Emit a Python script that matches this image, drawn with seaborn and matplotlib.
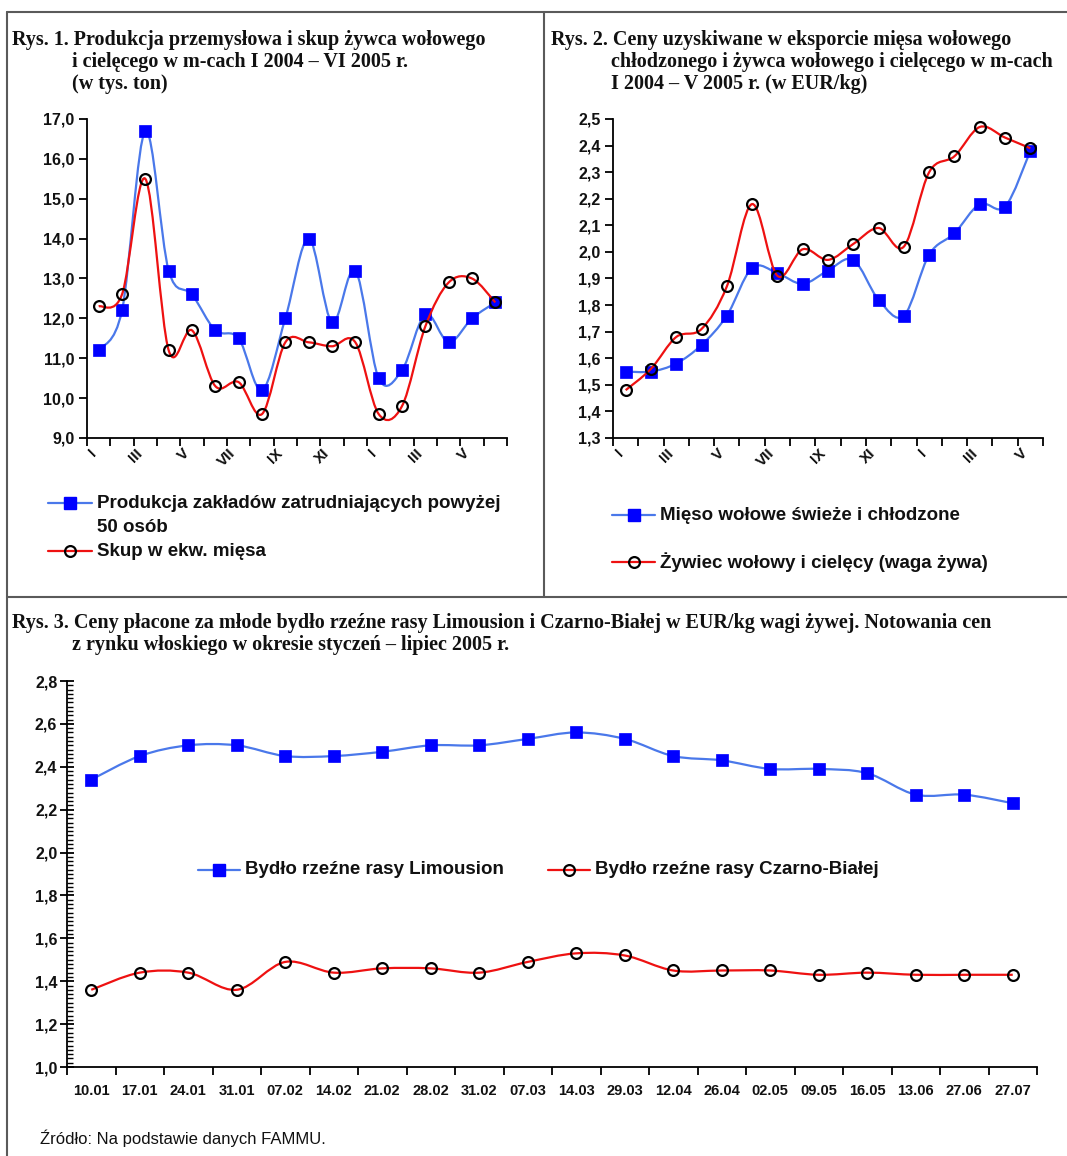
import numpy as np
import pandas as pd
import matplotlib
matplotlib.use("Agg")
import matplotlib.pyplot as plt
import seaborn as sns
from matplotlib.path import Path
from matplotlib.patches import PathPatch
from matplotlib.lines import Line2D
from matplotlib.ticker import FuncFormatter, MultipleLocator

# ---------------- DATA ----------------
months1 = ['I', 'II', 'III', 'IV', 'V', 'VI', 'VII', 'VIII', 'IX', 'X', 'XI', 'XII',
           'I', 'II', 'III', 'IV', 'V', 'VI']
produkcja = [11.2, 12.2, 16.7, 13.2, 12.6, 11.7, 11.5, 10.2, 12.0, 14.0, 11.9, 13.2,
             10.5, 10.7, 12.1, 11.4, 12.0, 12.4]
skup = [12.3, 12.6, 15.5, 11.2, 11.7, 10.3, 10.4, 9.6, 11.4, 11.4, 11.3, 11.4,
        9.6, 9.8, 11.8, 12.9, 13.0, 12.4]

months2 = ['I', 'II', 'III', 'IV', 'V', 'VI', 'VII', 'VIII', 'IX', 'X', 'XI', 'XII',
           'I', 'II', 'III', 'IV', 'V']
mieso = [1.55, 1.55, 1.58, 1.65, 1.76, 1.94, 1.92, 1.88, 1.93, 1.97, 1.82, 1.76,
         1.99, 2.07, 2.18, 2.17, 2.38]
zywiec = [1.48, 1.56, 1.68, 1.71, 1.87, 2.18, 1.91, 2.01, 1.97, 2.03, 2.09, 2.02,
          2.30, 2.36, 2.47, 2.43, 2.39]

dates3 = ['10.01', '17.01', '24.01', '31.01', '07.02', '14.02', '21.02', '28.02', '31.02',
          '07.03', '14.03', '29.03', '12.04', '26.04', '02.05', '09.05', '16.05', '13.06',
          '27.06', '27.07']
limousin = [2.34, 2.45, 2.50, 2.50, 2.45, 2.45, 2.47, 2.50, 2.50, 2.53, 2.56, 2.53,
            2.45, 2.43, 2.39, 2.39, 2.37, 2.27, 2.27, 2.23]
czarno = [1.36, 1.44, 1.44, 1.36, 1.49, 1.44, 1.46, 1.46, 1.44, 1.49, 1.53, 1.52,
          1.45, 1.45, 1.45, 1.43, 1.44, 1.43, 1.43, 1.43]

# ---------------- STYLE ----------------
sns.set_theme(style="white")
plt.rcParams['font.family'] = ['Liberation Sans', 'DejaVu Sans']

W, H = 1067, 1156
fig = plt.figure(figsize=(W / 100, H / 100), dpi=100)
fig.patch.set_facecolor('white')

BLUE_LINE = '#4A78EA'
BLUE_MARK = '#0000FF'
RED_LINE = '#EE1111'
BORDER = '#5a5a5a'
TXT = '#111111'


def fx(px):
    return px / W


def fy(py):
    return 1 - py / H


def axes_px(left, top, right, bottom):
    return fig.add_axes([fx(left), fy(bottom), fx(right - left), (bottom - top) / H])


def smooth_path(xs, ys):
    P = np.column_stack([xs, ys]).astype(float)
    n = len(P)
    verts = [P[0]]
    codes = [Path.MOVETO]
    for i in range(n - 1):
        p0 = P[i - 1] if i > 0 else P[i]
        p1 = P[i]
        p2 = P[i + 1]
        p3 = P[i + 2] if i + 2 < n else P[i + 1]
        c1 = p1 + (p2 - p0) / 6.0
        c2 = p2 - (p3 - p1) / 6.0
        verts += [c1, c2, p2]
        codes += [Path.CURVE4] * 3
    return Path(verts, codes)


SQ = 8.5
CI = 7.8


def draw_series(ax, x, y, kind):
    if kind == 'blue':
        ax.add_patch(PathPatch(smooth_path(x, y), fill=False, edgecolor=BLUE_LINE,
                               lw=1.6, zorder=2))
        sns.lineplot(x=x, y=y, ax=ax, marker='s', markersize=SQ, markerfacecolor=BLUE_MARK,
                     markeredgecolor=BLUE_MARK, markeredgewidth=0.5, lw=0,
                     color=BLUE_MARK, zorder=3, legend=False, sort=False)
    else:
        ax.add_patch(PathPatch(smooth_path(x, y), fill=False, edgecolor=RED_LINE,
                               lw=1.6, zorder=4))
        sns.lineplot(x=x, y=y, ax=ax, marker='o', markersize=CI, markerfacecolor='none',
                     markeredgecolor='black', markeredgewidth=1.6, lw=0,
                     color=RED_LINE, zorder=5, legend=False, sort=False)


def comma_fmt(dec):
    return FuncFormatter(lambda v, p: f"{v:.{dec}f}".replace('.', ','))


def style_axes(ax):
    for s in ['top', 'right']:
        ax.spines[s].set_visible(False)
    for s in ['left', 'bottom']:
        ax.spines[s].set_color('black')
        ax.spines[s].set_linewidth(1.3)
    ax.set_xlabel('')
    ax.set_ylabel('')
    ax.set_facecolor('none')


YS = 11.5


def month_axes(ax, labels, ymin, ymax, ystep, dec):
    n = len(labels)
    ax.set_xlim(-0.5, n - 0.5)
    ax.set_ylim(ymin, ymax)
    ax.set_xticks(np.arange(-0.5, n, 1.0))
    ax.set_xticklabels([])
    idx = np.arange(0, n, 2)
    ax.set_xticks(idx, minor=True)
    ax.set_xticklabels([labels[i] for i in idx], minor=True, rotation=45,
                       ha='right', va='top', fontsize=11, fontweight='bold', color=TXT)
    ax.tick_params(axis='x', which='major', direction='out', length=6, width=1.3,
                   color='black', bottom=True)
    ax.tick_params(axis='x', which='minor', length=0, pad=6, bottom=True)
    ax.yaxis.set_major_locator(MultipleLocator(ystep))
    ax.yaxis.set_major_formatter(comma_fmt(dec))
    ax.tick_params(axis='y', which='major', direction='out', length=6, width=1.3,
                   color='black', left=True, labelsize=YS, pad=3, labelcolor=TXT)
    for t in ax.get_yticklabels():
        t.set_fontweight('bold')
    style_axes(ax)


# ---------------- PANEL 1 ----------------
ax1 = axes_px(87, 119, 507, 438)
x1 = np.arange(len(months1))
draw_series(ax1, x1, produkcja, 'blue')
draw_series(ax1, x1, skup, 'red')
month_axes(ax1, months1, 9.0, 17.0, 1.0, 1)

# ---------------- PANEL 2 ----------------
ax2 = axes_px(613, 119, 1043, 438)
x2 = np.arange(len(months2))
draw_series(ax2, x2, mieso, 'blue')
draw_series(ax2, x2, zywiec, 'red')
month_axes(ax2, months2, 1.3, 2.5, 0.1, 1)

# ---------------- PANEL 3 ----------------
ax3 = axes_px(67, 681, 1037, 1067)
x3 = np.arange(len(dates3))
draw_series(ax3, x3, limousin, 'blue')
draw_series(ax3, x3, czarno, 'red')
n3 = len(dates3)
ax3.set_xlim(-0.5, n3 - 0.5)
ax3.set_ylim(1.0, 2.8)
ax3.set_xticks(np.arange(-0.5, n3, 1.0))
ax3.set_xticklabels([])
ax3.set_xticks(x3, minor=True)
ax3.set_xticklabels(dates3, minor=True, fontsize=10.5, fontweight='bold', color=TXT)
ax3.tick_params(axis='x', which='major', direction='out', length=6, width=1.3,
                color='black', bottom=True)
ax3.tick_params(axis='x', which='minor', length=0, pad=12, bottom=True)
ax3.yaxis.set_major_locator(MultipleLocator(0.2))
ax3.yaxis.set_minor_locator(MultipleLocator(0.02))
ax3.yaxis.set_major_formatter(comma_fmt(1))
ax3.tick_params(axis='y', which='major', direction='inout', length=10, width=1.3,
                color='black', left=True, labelsize=YS, pad=2, labelcolor=TXT)
ax3.tick_params(axis='y', which='minor', direction='in', length=4, width=1.0,
                color='black', left=True)
for t in ax3.get_yticklabels():
    t.set_fontweight('bold')
style_axes(ax3)

# ---------------- BORDERS ----------------
for (xa, ya, xb, yb) in [(7, 12, W, 12), (7, 12, 7, H), (544, 12, 544, 597),
                         (7, 597, W, 597)]:
    fig.add_artist(Line2D([fx(xa), fx(xb)], [fy(ya), fy(yb)], color=BORDER, lw=1.5,
                          transform=fig.transFigure))

# ---------------- TITLES ----------------
SERIF = ['Liberation Serif', 'DejaVu Serif']
TS = 14.5


def ttext(x, y, s, **kw):
    fig.text(fx(x), fy(y), s, family=SERIF, fontweight='bold', fontsize=TS,
             va='center', ha='left', color=TXT, **kw)


ttext(12, 40, 'Rys. 1. Produkcja przemysłowa i skup żywca wołowego')
ttext(72, 62, 'i cielęcego w m-cach I 2004 – VI 2005 r.')
ttext(72, 84, '(w tys. ton)')

ttext(551, 40, 'Rys. 2. Ceny uzyskiwane w eksporcie mięsa wołowego')
ttext(611, 62, 'chłodzonego i żywca wołowego i cielęcego w m-cach')
ttext(611, 84, 'I 2004 – V 2005 r. (w EUR/kg)')

ttext(12, 623, 'Rys. 3. Ceny płacone za młode bydło rzeźne rasy Limousion i Czarno-Białej '
               'w EUR/kg wagi żywej. Notowania cen')
ttext(72, 645, 'z rynku włoskiego w okresie styczeń – lipiec 2005 r.')

# ---------------- LEGENDS ----------------
LS = 13.5


def leg_entry(x0, x1, y, kind, label):
    xm = (x0 + x1) / 2
    if kind == 'blue':
        fig.add_artist(Line2D([fx(x0), fx(x1)], [fy(y), fy(y)], color=BLUE_LINE, lw=1.6,
                              transform=fig.transFigure))
        fig.add_artist(Line2D([fx(xm)], [fy(y)], marker='s', markersize=SQ,
                              markerfacecolor=BLUE_MARK, markeredgecolor=BLUE_MARK,
                              lw=0, transform=fig.transFigure))
    else:
        fig.add_artist(Line2D([fx(x0), fx(x1)], [fy(y), fy(y)], color=RED_LINE, lw=1.6,
                              transform=fig.transFigure))
        fig.add_artist(Line2D([fx(xm)], [fy(y)], marker='o', markersize=CI,
                              markerfacecolor='none', markeredgecolor='black',
                              markeredgewidth=1.6, lw=0, transform=fig.transFigure))
    fig.text(fx(x1 + 5), fy(y), label, fontsize=LS, fontweight='bold', va='center',
             ha='left', color=TXT)


leg_entry(48, 92, 503, 'blue', 'Produkcja zakładów zatrudniających powyżej')
fig.text(fx(97), fy(528), '50 osób', fontsize=LS, fontweight='bold', va='center',
         ha='left', color=TXT)
leg_entry(48, 92, 551, 'red', 'Skup w ekw. mięsa')

leg_entry(612, 655, 515, 'blue', 'Mięso wołowe świeże i chłodzone')
leg_entry(612, 655, 562, 'red', 'Żywiec wołowy i cielęcy (waga żywa)')

leg_entry(198, 240, 870, 'blue', 'Bydło rzeźne rasy Limousion')
leg_entry(548, 590, 870, 'red', 'Bydło rzeźne rasy Czarno-Białej')

# ---------------- SOURCE ----------------
fig.text(fx(40), fy(1138), 'Źródło: Na podstawie danych FAMMU.', fontsize=12,
         va='center', ha='left', color=TXT)

fig.savefig('out.png', dpi=100, facecolor='white')
